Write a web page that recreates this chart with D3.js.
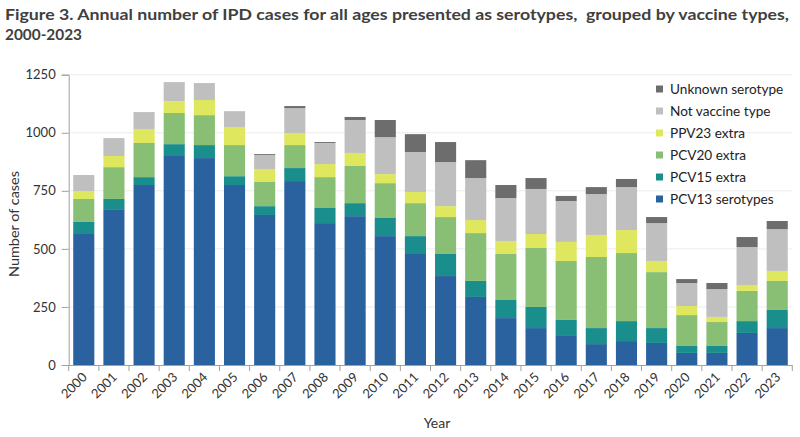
<!DOCTYPE html>
<html><head><meta charset="utf-8">
<script src="https://cdn.jsdelivr.net/npm/d3@7"></script>
<style>body{margin:0;background:#fff}svg{display:block}</style>
</head><body><svg id="c" width="800" height="437"></svg>
<script>
const years = ["2000","2001","2002","2003","2004","2005","2006","2007","2008","2009","2010","2011","2012","2013","2014","2015","2016","2017","2018","2019","2020","2021","2022","2023"];
const seriesNames = ["PCV13 serotypes","PCV15 extra","PCV20 extra","PPV23 extra","Not vaccine type","Unknown serotype"];
const pcv13 = [564,671,775,900,891,775,646,792,611,641,555,478,383,293,202,159,125,90,103,95,52,52,138,159];
const pcv15 = [52,44,34,51,56,38,38,56,65,56,78,77,95,69,78,91,69,69,86,64,30,30,51,78];
const pcv20 = [99,137,147,134,129,134,104,99,133,160,150,142,159,206,198,254,254,306,293,241,133,103,130,125];
const ppv23 = [34,48,60,51,65,78,56,52,56,56,39,48,47,56,56,60,82,95,99,48,39,22,25,43];
const nvt = [69,77,73,82,73,68,60,107,91,142,159,172,190,181,185,194,176,176,185,163,99,120,164,180];
const unknown = [0,0,0,0,0,0,4,9,4,13,74,77,86,77,56,47,22,30,35,26,17,26,43,35];
const yTicks = [0,250,500,750,1000,1250];
const colors = ["#2A62A0","#1A8E8C","#88BF74","#DEE75D","#BFBFBF","#6D6D6D"];

const seriesVals = [pcv13,pcv15,pcv20,ppv23,nvt,unknown];
const rows = years.map((y,i)=>{const o={year:y}; seriesNames.forEach((s,k)=>o[s]=seriesVals[k][i]); return o;});
const stacked = d3.stack().keys(seriesNames)(rows);

const svg = d3.select("#c");
const font = "Lato, 'DejaVu Sans', sans-serif";
const L=68.7, R=792.3, T=74.7, B=365;
const x = d3.scaleBand().domain(years).range([L,R]).paddingInner(0.3).paddingOuter(0.15);
const y = d3.scaleLinear().domain([0,1250]).range([B,T]);

// gridlines
svg.append("g").selectAll("line").data(yTicks.slice(1)).join("line")
  .attr("x1",L).attr("x2",R).attr("y1",d=>y(d)).attr("y2",d=>y(d))
  .attr("stroke","#ECECEC").attr("stroke-width",1);

// bars
svg.append("g").selectAll("g").data(stacked).join("g").attr("fill",(d,i)=>colors[i])
  .selectAll("rect").data(d=>d).join("rect")
  .attr("x",d=>x(d.data.year)).attr("width",x.bandwidth())
  .attr("y",d=>y(d[1])).attr("height",d=>Math.max(0,y(d[0])-y(d[1])));

// y axis
const ya = svg.append("g").attr("transform",`translate(${L},0)`)
  .call(d3.axisLeft(y).tickValues(yTicks).tickFormat(d3.format("d")).tickSize(7).tickPadding(6));
ya.select(".domain").attr("stroke","#A0A0A0");
ya.selectAll(".tick line").attr("stroke","#A0A0A0");
ya.selectAll("text").attr("font-family",font).attr("font-size",13).attr("fill","#333");

// x axis
const xa = svg.append("g").attr("transform",`translate(0,${B})`)
  .call(d3.axisBottom(x).tickSize(0).tickPadding(0));
xa.select(".domain").attr("stroke","#A0A0A0").attr("d",`M${L},0.5H${R}`);
svg.append("g").selectAll("line").data(d3.range(years.length+1)).join("line")
  .attr("x1",i=>L+i*(R-L)/years.length).attr("x2",i=>L+i*(R-L)/years.length)
  .attr("y1",B).attr("y2",B+6).attr("stroke","#A0A0A0");
xa.selectAll(".tick text").attr("font-family",font).attr("font-size",13).attr("fill","#333")
  .attr("text-anchor","end").attr("dy",0)
  .attr("transform","translate(4,13) rotate(-45)");

// axis titles
svg.append("text").attr("x",437).attr("y",428).attr("text-anchor","middle")
  .attr("font-family",font).attr("font-size",14).attr("fill","#333").text("Year");
svg.append("text").attr("transform",`translate(18.5,224) rotate(-90)`).attr("text-anchor","middle")
  .attr("font-family",font).attr("font-size",14).attr("fill","#333")
  .attr("textLength",106).attr("lengthAdjust","spacingAndGlyphs").text("Number of cases");

// legend
const legOrder = seriesNames.map((s,i)=>i).reverse();
const lg = svg.append("g").selectAll("g").data(legOrder).join("g")
  .attr("transform",(d,i)=>`translate(656,${89+i*22})`);
lg.append("rect").attr("x",0).attr("y",-3.5).attr("width",7).attr("height",7).attr("fill",d=>colors[d]);
lg.append("text").attr("x",14).attr("y",0).attr("dy","0.35em")
  .attr("font-family",font).attr("font-size",13.6).attr("fill","#222").text(d=>seriesNames[d]);

// title
svg.append("text").attr("x",5).attr("y",20).attr("font-family",font).attr("font-weight","bold")
  .attr("font-size",15.5).attr("fill","#404040").attr("textLength",784).attr("lengthAdjust","spacingAndGlyphs")
  .style("white-space","pre")
  .text("Figure 3. Annual number of IPD cases for all ages presented as serotypes,  grouped by vaccine types,");
svg.append("text").attr("x",5).attr("y",40).attr("font-family",font).attr("font-weight","bold")
  .attr("font-size",15.5).attr("fill","#404040").attr("textLength",77).attr("lengthAdjust","spacingAndGlyphs")
  .text("2000-2023");
</script></body></html>
